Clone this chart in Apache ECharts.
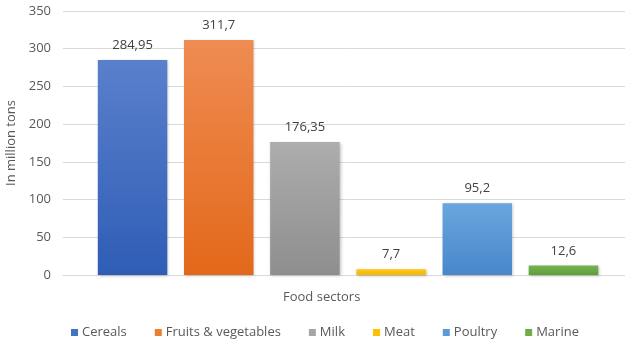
<!DOCTYPE html>
<html>
<head>
<meta charset="utf-8">
<script src="https://cdn.jsdelivr.net/npm/echarts@6/dist/echarts.min.js"></script>
<style>
html,body{margin:0;padding:0;background:#fff;}
#c{width:625px;height:343px;}
</style>
</head>
<body>
<div id="c"></div>
<script>
const categories = ['Cereals', 'Fruits & vegetables', 'Milk', 'Meat', 'Poultry', 'Marine'];
const values = [284.95, 311.7, 176.35, 7.7, 95.2, 12.6];
const yTicks = [0, 50, 100, 150, 200, 250, 300, 350];
const xTitle = 'Food sectors';
const yTitle = 'In million tons';

const baseColors = ['#4472c4', '#ed7d31', '#a5a5a5', '#ffc000', '#5b9bd5', '#70ad47'];
const topColors = ['#5a80cc', '#ef8c52', '#adadad', '#ffc71a', '#6aa6dd', '#78b352'];
const bottomColors = ['#2f5db5', '#e3681a', '#8e8e8e', '#f5b800', '#4887cb', '#5f9c3a'];

const font = '"Open Sans", "Noto Sans", sans-serif';
const chart = echarts.init(document.getElementById('c'), null, {renderer: 'canvas'});

const series = categories.map((name, i) => ({
  name: name,
  type: 'bar',
  data: [values[i]],
  barWidth: 69.5,
  barGap: '24%',
  itemStyle: {
    color: new echarts.graphic.LinearGradient(0, 0, 0, 1, [
      {offset: 0, color: topColors[i]},
      {offset: 1, color: bottomColors[i]}
    ]),
    shadowBlur: 3,
    shadowColor: 'rgba(0,0,0,0.25)',
    shadowOffsetX: 1,
    shadowOffsetY: 1
  },
  label: {
    show: true,
    position: 'top',
    distance: 8,
    color: '#404040',
    fontSize: 13,
    fontFamily: font,
    formatter: p => String(p.value).replace('.', ',')
  }
}));

chart.setOption({
  animation: false,
  grid: {left: 63, width: 570, top: 11, bottom: 68, containLabel: false, outerBoundsMode: 'none'},
  xAxis: {
    type: 'category',
    data: [xTitle],
    axisLine: {show: true, lineStyle: {color: '#d9d9d9', width: 1}},
    axisTick: {show: false},
    axisLabel: {show: false}
  },
  yAxis: {
    type: 'value',
    min: yTicks[0],
    max: yTicks[yTicks.length - 1],
    interval: yTicks[1] - yTicks[0],
    name: yTitle,
    nameLocation: 'middle',
    nameGap: 37,
    nameTextStyle: {color: '#595959', fontSize: 13, fontFamily: font},
    axisLine: {show: false},
    axisTick: {show: false},
    axisLabel: {color: '#595959', fontSize: 13, fontFamily: font, margin: 12},
    splitLine: {lineStyle: {color: '#d9d9d9', width: 1}}
  },
  legend: {
    top: 321,
    left: 66,
    itemWidth: 7,
    itemHeight: 7,
    itemGap: 28,
    icon: 'rect',
    textStyle: {color: '#595959', fontSize: 13, fontFamily: font, padding: [0, 0, 0, -1]},
    data: categories.map((n, i) => ({name: n, itemStyle: {color: baseColors[i], shadowBlur: 0, shadowOffsetX: 0, shadowOffsetY: 0}}))
  },
  graphic: [{
    type: 'text',
    left: 283,
    top: 291,
    style: {text: xTitle, fill: '#595959', font: '13px ' + font}
  }],
  series: series
});
</script>
</body>
</html>
